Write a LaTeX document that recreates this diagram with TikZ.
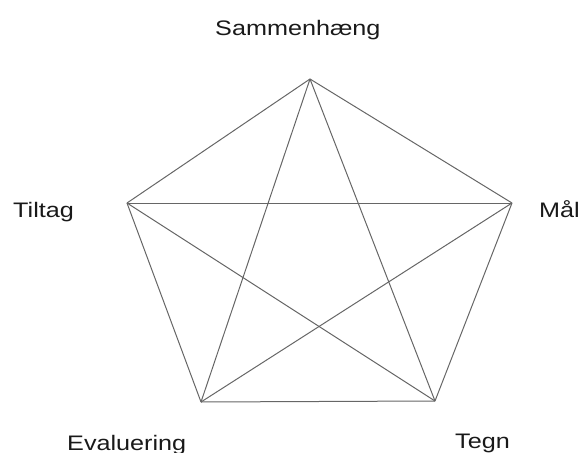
\documentclass[tikz,border=0pt]{standalone}
\usepackage{fontspec}
\newfontfamily\lblfont[FakeStretch=1.2]{Liberation Sans}
\begin{document}
\begin{tikzpicture}[x=1pt, y=-1pt,
    edge/.style={black!60, line width=1pt},
    lbl/.style={font=\lblfont\fontsize{21}{24}\selectfont, text=black!90,
        inner sep=0pt, anchor=base west}]

  \useasboundingbox (0,0) rectangle (582,453);

  % ---- the five corners ----
  \coordinate (S) at (310,79);
  \coordinate (T) at (127,203);
  \coordinate (M) at (512,203);
  \coordinate (E) at (201,402);
  \coordinate (G) at (435,401);

  % ---- outer pentagon ----
  \draw[edge] (S) -- (T);
  \draw[edge] (S) -- (M);
  \draw[edge] (T) -- (E);
  \draw[edge] (E) -- (G);
  \draw[edge] (G) -- (M);

  % ---- inner star ----
  \draw[edge] (S) -- (E);
  \draw[edge] (S) -- (G);
  \draw[edge] (T) -- (M);
  \draw[edge] (T) -- (G);
  \draw[edge] (E) -- (M);

  % ---- labels ----
  \node[lbl] (sam) at (215,35) {Sammenhæng};
  \node[lbl] (til) at (13,217) {Tiltag};
  \node[lbl] (maal) at (539,217) {Mål};
  \node[lbl] (eva) at (67,450) {Evaluering};
  \node[lbl] (teg) at (455,448) {Tegn};

\end{tikzpicture}
\end{document}
